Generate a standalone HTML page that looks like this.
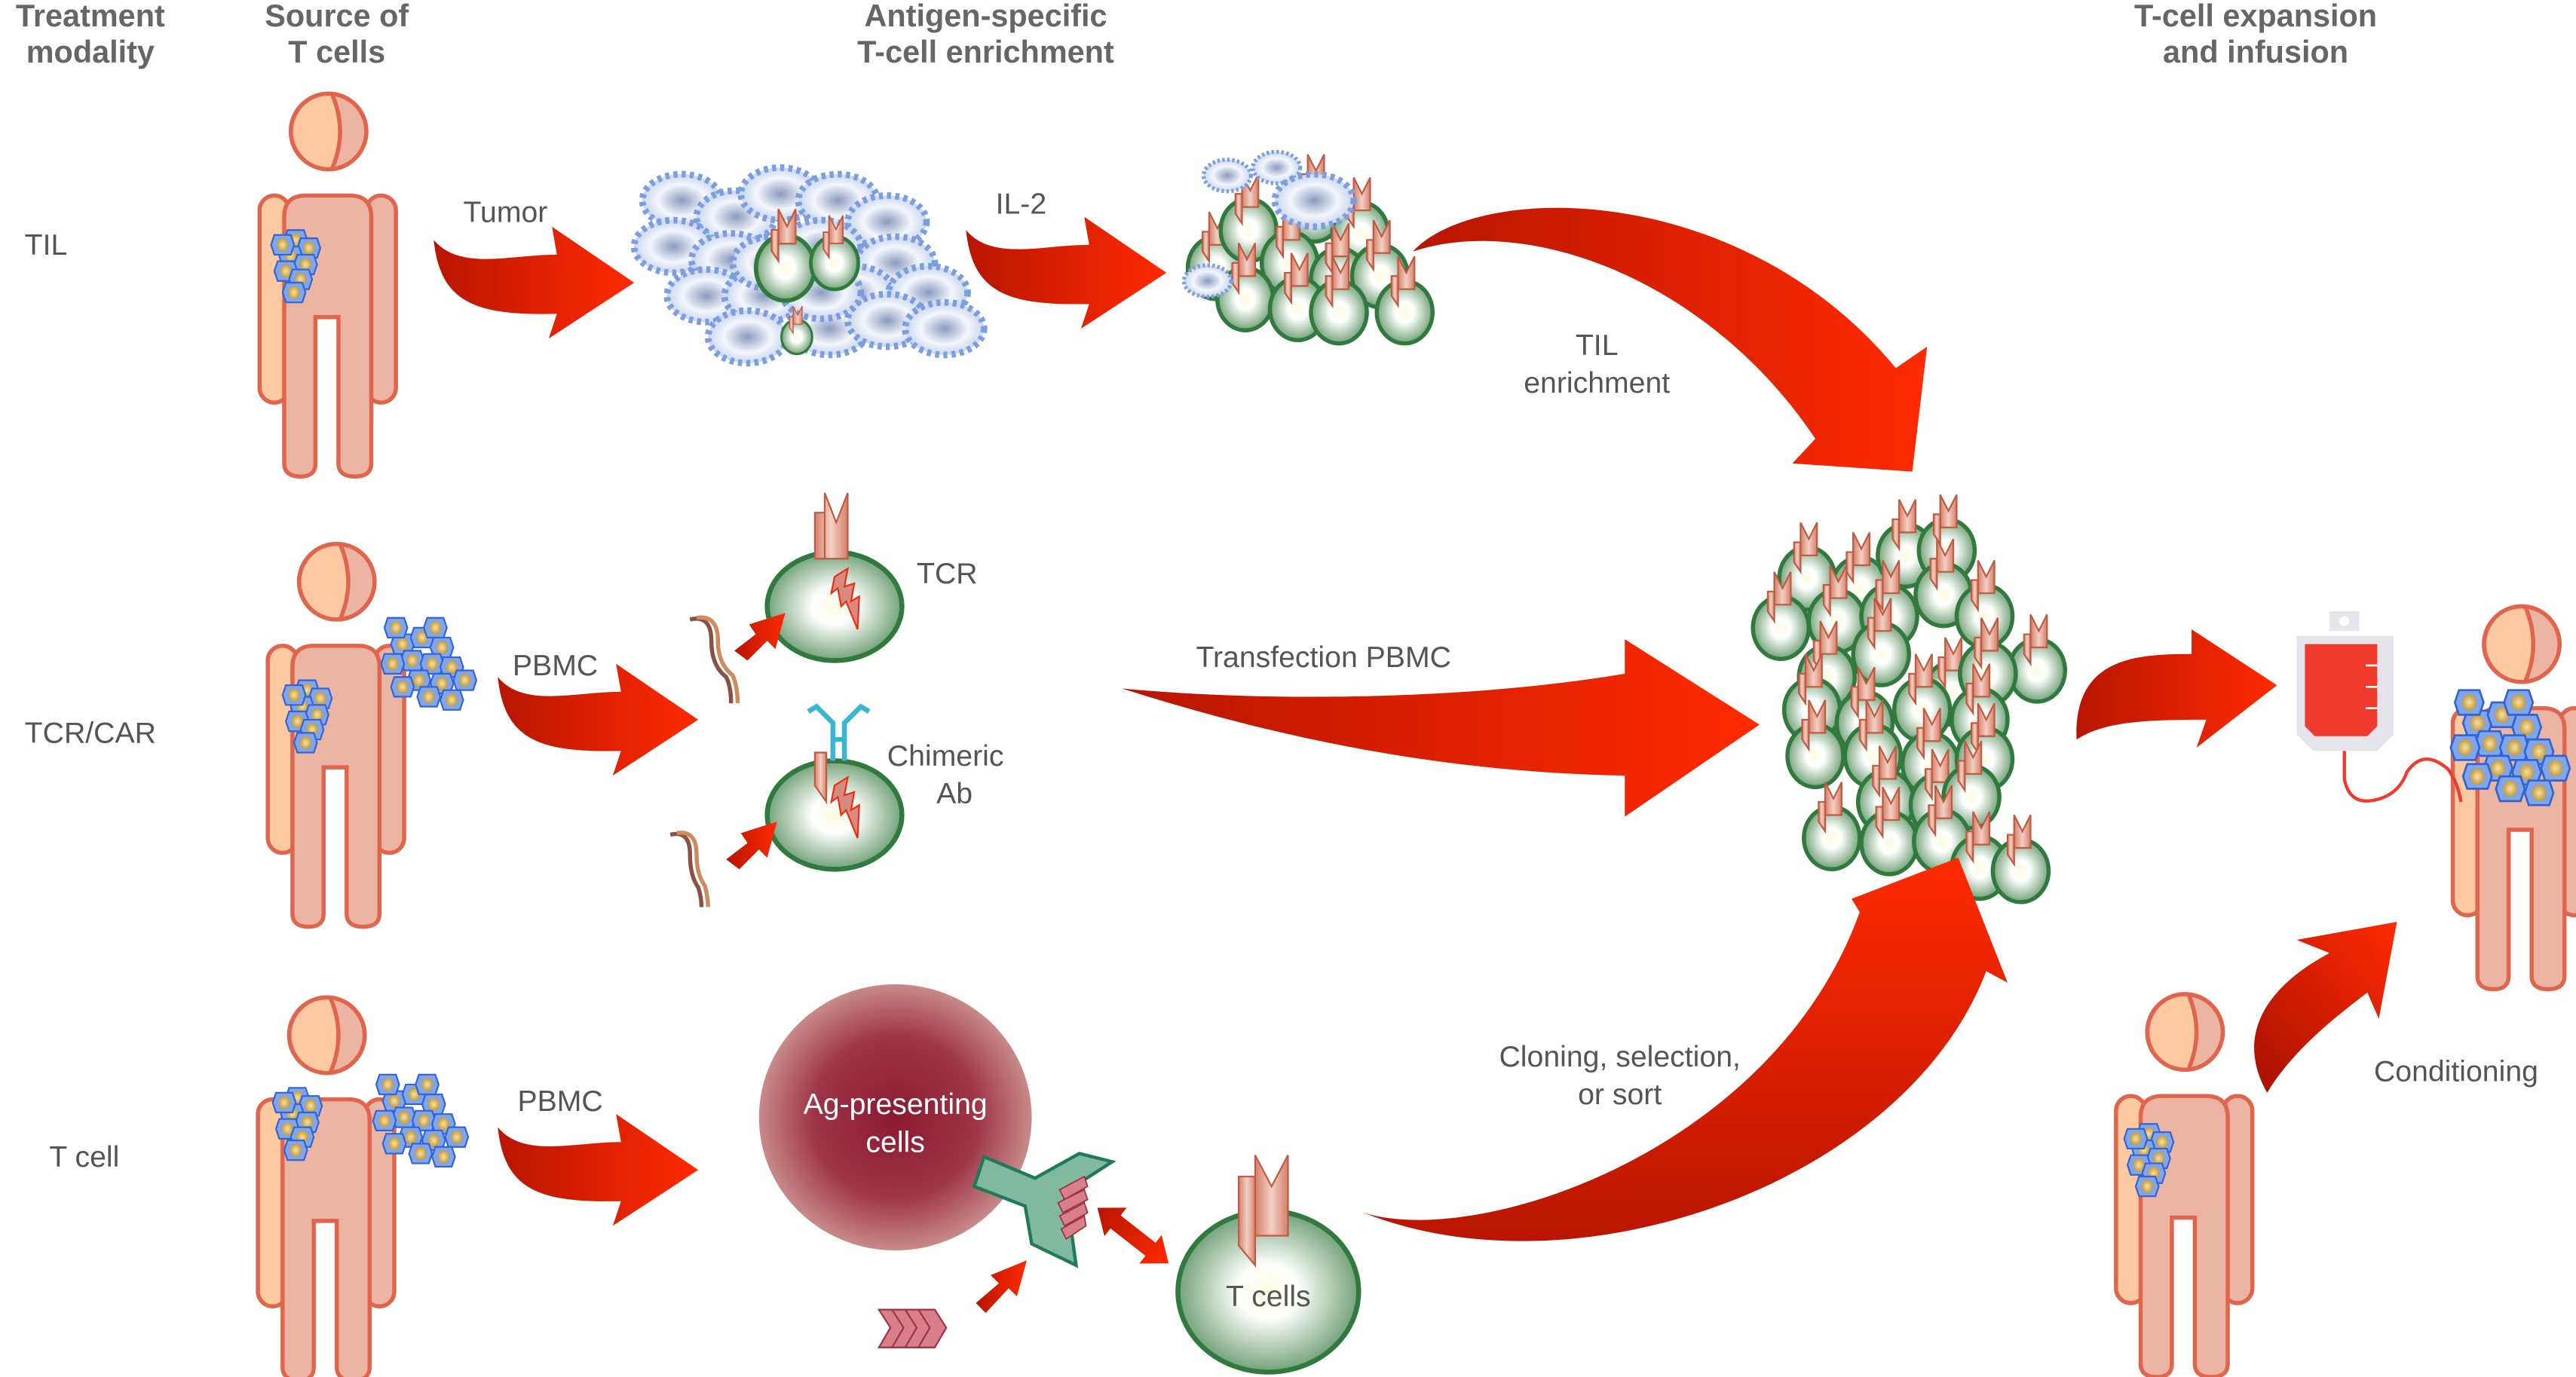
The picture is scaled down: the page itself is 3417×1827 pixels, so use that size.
<!DOCTYPE html>
<html><head><meta charset="utf-8"><style>
html,body{margin:0;padding:0;background:#fff;}
svg{display:block;}
text{font-family:"Liberation Sans",sans-serif;fill:#555;}
</style></head><body>
<svg width="3417" height="1827" viewBox="0 0 1568 838" preserveAspectRatio="none" xmlns="http://www.w3.org/2000/svg">
<defs>
<linearGradient id="red" x1="0" y1="0" x2="1" y2="0"><stop offset="0" stop-color="#b81500"/><stop offset="1" stop-color="#ff2a00"/></linearGradient>
<linearGradient id="redv" x1="0" y1="1" x2="0" y2="0"><stop offset="0" stop-color="#b81500"/><stop offset="1" stop-color="#ff2a00"/></linearGradient>
<linearGradient id="redd" x1="0" y1="1" x2="1" y2="0"><stop offset="0" stop-color="#a81000"/><stop offset="1" stop-color="#ff2a00"/></linearGradient>
<radialGradient id="gg" cx="0.5" cy="0.5" r="0.55"><stop offset="0" stop-color="#fffbe0"/><stop offset="0.3" stop-color="#ffffff"/><stop offset="1" stop-color="#5f9566"/></radialGradient>
<radialGradient id="tg" cx="0.5" cy="0.5" r="0.5"><stop offset="0" stop-color="#8a9ac0"/><stop offset="0.6" stop-color="#f4f6fb"/><stop offset="1" stop-color="#c9d6ee"/></radialGradient>
<radialGradient id="apc" cx="0.5" cy="0.5" r="0.5"><stop offset="0" stop-color="#8a1a30"/><stop offset="0.6" stop-color="#9e3447"/><stop offset="1" stop-color="#c88a88"/></radialGradient>
<linearGradient id="rec" x1="0" y1="0" x2="1" y2="0"><stop offset="0" stop-color="#d4806a"/><stop offset="0.5" stop-color="#f4d0c4"/><stop offset="1" stop-color="#d4806a"/></linearGradient>
<radialGradient id="yc" cx="0.5" cy="0.5" r="0.5"><stop offset="0" stop-color="#f5e3a0"/><stop offset="1" stop-color="#c59a40"/></radialGradient>

<g id="person">
  <rect x="-42" y="39" width="18" height="126" rx="9" fill="#fdc9a0" stroke="#e0654c" stroke-width="2.5"/>
  <rect x="23" y="39" width="18" height="126" rx="9" fill="#ecb5a3" stroke="#e0654c" stroke-width="2.5"/>
  <path d="M-27,52 Q-27,39 -14,39 L13,39 Q26,39 26,52 L26,202 Q26,210 16,210 Q6,210 6,202 L6,113 L-8,113 L-8,202 Q-8,210 -17,210 Q-27,210 -27,202Z" fill="#ecb5a3" stroke="#e0654c" stroke-width="2.5"/>
  <circle cx="0" cy="0" r="23" fill="#ecb5a3" stroke="#e0654c" stroke-width="2.5"/>
  <path d="M2,-23 A23,23 0 0 0 2,23 Q12,0 2,-23Z" fill="#fdc9a0"/>
  <circle cx="0" cy="0" r="23" fill="none" stroke="#e0654c" stroke-width="2.5"/>
  <path d="M2,-23 Q12,0 2,23" fill="none" stroke="#e0654c" stroke-width="2.5"/>
</g>
<g id="yc1"><polygon points="-5,-6 5,-6 7,0 5,6 -5,6 -7,0" fill="#7ea6ef" stroke="#3563d0" stroke-width="1"/><ellipse cx="0" cy="0" rx="3.5" ry="4" fill="url(#yc)"/></g>
<g id="tum"><use href="#yc1" x="0" y="0"/><use href="#yc1" x="8" y="5"/><use href="#yc1" x="-3" y="10"/><use href="#yc1" x="6" y="15"/><use href="#yc1" x="-6" y="19"/><use href="#yc1" x="3" y="24"/><use href="#yc1" x="-8" y="3"/><use href="#yc1" x="-1" y="32"/></g>
<g id="tumB"><use href="#yc1" x="0" y="0"/><use href="#yc1" x="12" y="-4"/><use href="#yc1" x="24" y="2"/><use href="#yc1" x="6" y="10"/><use href="#yc1" x="18" y="12"/><use href="#yc1" x="30" y="14"/><use href="#yc1" x="-6" y="12"/><use href="#yc1" x="10" y="22"/><use href="#yc1" x="24" y="24"/><use href="#yc1" x="38" y="22"/><use href="#yc1" x="0" y="26"/><use href="#yc1" x="16" y="32"/><use href="#yc1" x="30" y="34"/><use href="#yc1" x="-4" y="-10"/><use href="#yc1" x="20" y="-10"/></g>
<g id="tc">
  <ellipse cx="0" cy="0" rx="17" ry="19" fill="url(#gg)" stroke="#2f7a3c" stroke-width="2.5"/>
  <path d="M-4,-14 L-4,-34 L1,-24 L6,-34 L6,-14Z" fill="url(#rec)" stroke="#c05a40" stroke-width="1"/>
  <path d="M-8,-22 L-4,-22 L-4,-4 L-8,-10Z" fill="url(#rec)" stroke="#c05a40" stroke-width="1"/>
</g>
<g id="tu"><ellipse cx="0" cy="0" rx="24" ry="16" fill="url(#tg)" stroke="#7a9ee0" stroke-width="4" stroke-dasharray="2.5 2.5"/></g>
<g id="arr"><path d="M0,0 C16,19 46,9 75,9 L72,-8 L122,26 L70,60 L75,45 C26,46 4,39 0,0Z" fill="url(#red)"/></g>
</defs>

<!-- headings -->
<g font-weight="bold" font-size="19" text-anchor="middle">
<text x="55" y="16" style="fill:#666">Treatment</text><text x="55" y="38" style="fill:#666">modality</text>
<text x="205" y="16" style="fill:#666">Source of</text><text x="205" y="38" style="fill:#666">T cells</text>
<text x="600" y="16" style="fill:#666">Antigen-specific</text><text x="600" y="38" style="fill:#666">T-cell enrichment</text>
<text x="1373" y="16" style="fill:#666">T-cell expansion</text><text x="1373" y="38" style="fill:#666">and infusion</text>
</g>
<g font-size="18">
<text x="15" y="155">TIL</text>
<text x="15" y="452">TCR/CAR</text>
<text x="30" y="710">T cell</text>
<text x="282" y="135">Tumor</text>
<text x="606" y="130">IL-2</text>
<text x="312" y="411">PBMC</text>
<text x="315" y="676">PBMC</text>
<text x="558" y="355">TCR</text>
<text x="540" y="466">Chimeric</text>
<text x="570" y="489">Ab</text>
<text x="728" y="406">Transfection PBMC</text>
<text x="972" y="216" text-anchor="middle">TIL</text>
<text x="972" y="239" text-anchor="middle">enrichment</text>
<text x="986" y="649" text-anchor="middle">Cloning, selection,</text>
<text x="986" y="672" text-anchor="middle">or sort</text>
<text x="1445" y="658">Conditioning</text>
</g>

<!-- persons -->
<use href="#person" x="200" y="80"/>
<use href="#tum" x="180" y="146"/>
<use href="#person" x="205" y="354"/>
<use href="#tum" x="187" y="420"/>
<use href="#tumB" x="245" y="392"/>
<use href="#person" x="199" y="630"/>
<use href="#tum" x="181" y="668"/>
<use href="#tumB" x="240" y="670"/>
<use href="#person" x="1535" y="392"/>
<g transform="translate(1508,440) scale(1.25)"><use href="#tumB"/></g>
<use href="#person" x="1330" y="628"/>
<use href="#tum" x="1308" y="690"/>

<!-- small arrows -->
<use href="#arr" x="264" y="146"/>
<use href="#arr" x="588" y="140"/>
<use href="#arr" x="303" y="412"/>
<use href="#arr" x="303" y="686"/>

<!-- tumor cluster -->
<g>
<use href="#tu" x="415" y="122"/><use href="#tu" x="448" y="132"/><use href="#tu" x="475" y="118"/><use href="#tu" x="510" y="122"/><use href="#tu" x="540" y="135"/>
<use href="#tu" x="410" y="150"/><use href="#tu" x="445" y="158"/><use href="#tu" x="500" y="150"/><use href="#tu" x="545" y="160"/>
<use href="#tu" x="430" y="180"/><use href="#tu" x="465" y="180"/><use href="#tu" x="520" y="178"/><use href="#tu" x="565" y="178"/>
<use href="#tu" x="455" y="205"/><use href="#tu" x="505" y="200"/><use href="#tu" x="540" y="195"/><use href="#tu" x="575" y="200"/>
<use href="#tu" x="470" y="160"/><use href="#tu" x="500" y="178"/>
<g transform="translate(478,163) scale(1.05)"><use href="#tc"/></g>
<g transform="translate(508,160) scale(0.85)"><use href="#tc"/></g>
<g transform="translate(485,205) scale(0.55)"><use href="#tc"/></g>
</g>

<!-- TIL expanded cluster -->
<g>
<use href="#tc" x="740" y="163"/><use href="#tc" x="760" y="140"/><use href="#tc" x="800" y="128"/><use href="#tc" x="828" y="142"/>
<use href="#tc" x="785" y="160"/><use href="#tc" x="815" y="170"/><use href="#tc" x="840" y="168"/>
<use href="#tc" x="758" y="182"/><use href="#tc" x="790" y="188"/><use href="#tc" x="815" y="190"/><use href="#tc" x="855" y="190"/>
<g transform="scale(0.6)"><use href="#tu" x="1245" y="178"/><use href="#tu" x="1345" y="205"/><use href="#tu" x="1225" y="285"/><use href="#tu" x="1295" y="170"/></g>
<use href="#tu" x="800" y="122"/>
</g>

<!-- big cluster -->
<g>
<use href="#tc" x="1100" y="352"/><use href="#tc" x="1132" y="358"/><use href="#tc" x="1160" y="338"/><use href="#tc" x="1185" y="335"/>
<use href="#tc" x="1084" y="382"/><use href="#tc" x="1118" y="378"/><use href="#tc" x="1150" y="375"/><use href="#tc" x="1183" y="362"/><use href="#tc" x="1208" y="375"/><use href="#tc" x="1240" y="408"/>
<use href="#tc" x="1112" y="412"/><use href="#tc" x="1145" y="398"/><use href="#tc" x="1188" y="422"/><use href="#tc" x="1210" y="410"/>
<use href="#tc" x="1103" y="432"/><use href="#tc" x="1135" y="440"/><use href="#tc" x="1170" y="432"/><use href="#tc" x="1205" y="438"/>
<use href="#tc" x="1105" y="460"/><use href="#tc" x="1140" y="460"/><use href="#tc" x="1175" y="465"/><use href="#tc" x="1208" y="462"/>
<use href="#tc" x="1148" y="488"/><use href="#tc" x="1180" y="490"/><use href="#tc" x="1200" y="485"/>
<use href="#tc" x="1115" y="510"/><use href="#tc" x="1150" y="513"/><use href="#tc" x="1182" y="512"/><use href="#tc" x="1205" y="528"/><use href="#tc" x="1230" y="530"/>
</g>

<!-- big arrows -->
<path d="M860,153 C900,110 1060,110 1154,224 L1173,211 L1164,287 L1091,282 L1105,267 C1040,170 930,130 860,153Z" fill="url(#red)"/>
<path d="M683,419 C780,428 900,425 989,410 L989,389 L1071,441 L989,497 L989,472 C880,470 780,450 683,419Z" fill="url(#red)"/>
<path d="M830,738 C900,760 1080,700 1132,555 L1127,547 L1192,522 L1222,598 L1209,591 C1160,720 960,790 830,738Z" fill="url(#redv)"/>
<path d="M1264,450 C1262,400 1300,398 1334,398 L1334,383 L1386,417 L1337,455 L1343,438 C1300,438 1280,440 1264,450Z" fill="url(#red)"/>
<path d="M1380,665 C1360,630 1380,600 1418,580 L1398,572 L1459,561 L1448,620 L1441,604 C1420,620 1395,640 1380,665Z" fill="url(#redd)"/>

<!-- TCR / CAR cells -->
<ellipse cx="508" cy="369" rx="41" ry="33" fill="url(#gg)" stroke="#2f7a3c" stroke-width="3"/>
<path d="M502,340 L502,300 L509,318 L516,300 L516,340Z M496,340 L496,312 L502,312 L502,340 Z" fill="url(#rec)" stroke="#c05a40" stroke-width="1"/>
<path d="M508,351 L516,346 L514,357 L520,355 L518,366 L523,363 L522,383 L515,366 L512,369 L510,358 L506,361Z" fill="#d98a80" stroke="#e83010" stroke-width="1"/>
<ellipse cx="508" cy="496" rx="41" ry="33" fill="url(#gg)" stroke="#2f7a3c" stroke-width="3"/>
<path d="M496,458 L503,458 L503,488 L496,478Z" fill="url(#rec)" stroke="#c05a40" stroke-width="1"/>
<path d="M508,478 L516,473 L514,484 L520,482 L518,493 L523,490 L522,510 L515,493 L512,496 L510,485 L506,488Z" fill="#d98a80" stroke="#e83010" stroke-width="1"/>
<g fill="none" stroke="#3ab6d0" stroke-width="3"><path d="M507,463 L507,440 L497,430 L492,433 M514,463 L514,440 L524,430 L529,433 M507,450 L514,450"/></g>
<g fill="none" stroke-width="2.5"><path d="M420,377 Q433,374 433,390 Q433,405 442,412 Q445,418 445,428" stroke="#8a5040"/><path d="M424,376 Q437,374 437,390 Q437,404 446,411 Q449,418 449,428" stroke="#d08a60"/>
<path d="M408,508 Q420,505 420,520 Q420,533 425,540 Q427,546 427,552" stroke="#8a5040"/><path d="M412,507 Q424,505 424,520 Q424,532 429,539 Q431,546 431,552" stroke="#d08a60"/></g>
<polygon points="447,396 460,386 456,380 478,373 472,395 467,390 455,402" fill="url(#red)"/>
<polygon points="442,523 455,513 451,507 473,500 467,522 462,517 450,529" fill="url(#red)"/>

<!-- APC row -->
<ellipse cx="545" cy="680" rx="83" ry="81" fill="url(#apc)"/>
<text x="545" y="678" text-anchor="middle" font-size="18" style="fill:#fff">Ag-presenting</text>
<text x="545" y="701" text-anchor="middle" font-size="18" style="fill:#fff">cells</text>
<polygon points="593,722 599,704 630,717 657,702 677,707 660,718 648,730 652,748 655,770 628,757 624,734" fill="#80b8a0" stroke="#1f7a5a" stroke-width="2"/>
<g fill="#d8808a" stroke="#a03040" stroke-width="0.8"><path d="M645,724 L660,716 L662,722 L648,730Z"/><path d="M644,732 L660,724 L662,730 L647,738Z"/><path d="M645,740 L660,732 L662,738 L648,746Z"/><path d="M646,748 L660,740 L661,746 L649,754Z"/></g>
<g fill="#d8808a" stroke="#a03040" stroke-width="1"><path d="M535,797 L545,797 L552,808 L545,820 L535,820 L542,808Z"/><path d="M543,797 L553,797 L560,808 L553,820 L543,820 L550,808Z"/><path d="M551,797 L561,797 L568,808 L561,820 L551,820 L558,808Z"/><path d="M559,797 L569,797 L576,808 L569,820 L559,820 L566,808Z"/></g>
<polygon points="594,793 608,781 603,776 625,767 619,789 614,784 600,799" fill="url(#red)"/>
<g transform="translate(668,735) rotate(38)"><path d="M0,0 L14,-11 L14,-5 L41,-5 L41,-11 L55,0 L41,11 L41,5 L14,5 L14,11Z" fill="url(#red)"/></g>
<ellipse cx="772" cy="786" rx="55" ry="49" fill="url(#gg)" stroke="#2f7a3c" stroke-width="3"/>
<path d="M764,752 L764,703 L774,722 L784,703 L784,752Z" fill="url(#rec)" stroke="#c05a40" stroke-width="1"/>
<path d="M754,716 L764,716 L764,770 L754,758Z" fill="url(#rec)" stroke="#c05a40" stroke-width="1"/>
<text x="772" y="795" text-anchor="middle" font-size="18">T cells</text>

<!-- bag -->
<path d="M1418,372 h18 v12 h-18z" fill="#e4e4ea"/>
<circle cx="1427" cy="378" r="3" fill="#fff"/>
<path d="M1398,387 h59 v60 l-10,10 h-39 l-10,-10z" fill="#e4e4ea"/>
<path d="M1403,392 h44 v50 l-6,6 h-32 l-6,-6z" fill="#f03a2e"/>
<g stroke="#fff" stroke-width="1.2"><path d="M1440,405 h7 M1440,418 h7 M1440,431 h7"/></g>
<path d="M1427,457 L1427,474 Q1430,490 1445,487 Q1460,484 1465,470 Q1475,455 1490,468 Q1496,476 1498,488" fill="none" stroke="#f03a2e" stroke-width="2"/>
</svg>
</body></html>
